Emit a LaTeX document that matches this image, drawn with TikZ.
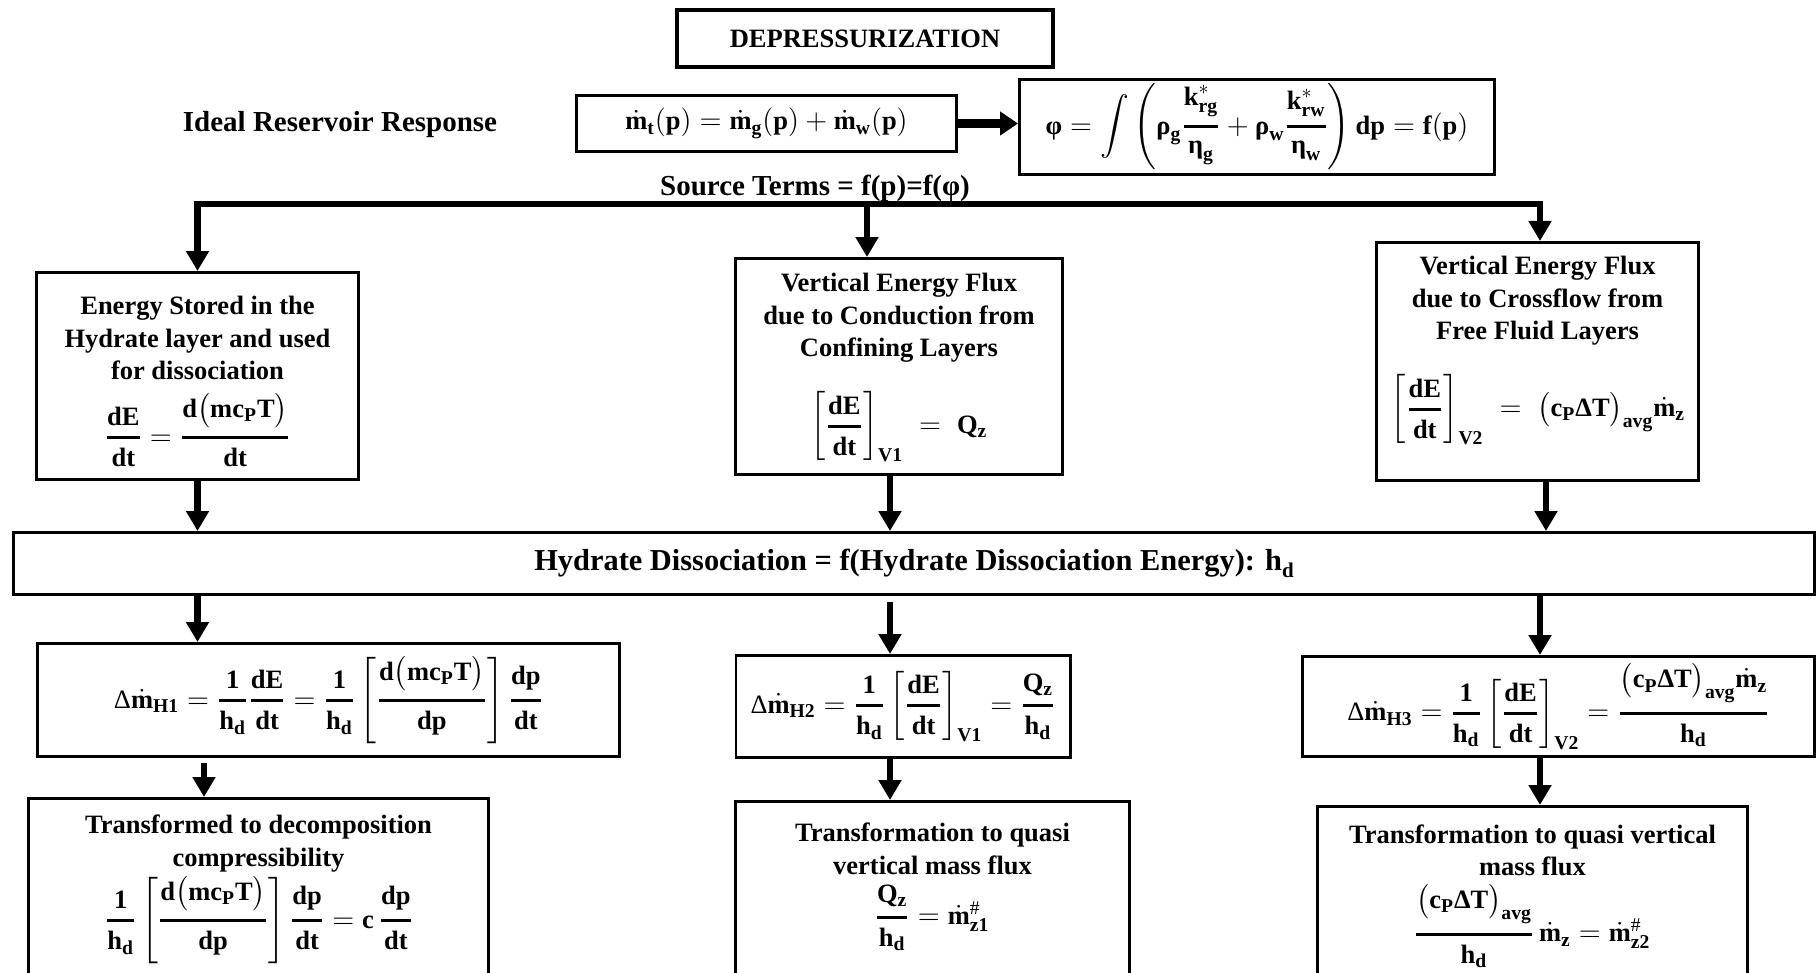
\documentclass[tikz,border=0pt]{standalone}
\usepackage{amsmath}
\usepackage{fontspec}
\setmainfont{Liberation Serif}
\usetikzlibrary{arrows.meta}
\DeclareMathSizes{13.25}{13.25}{9.8}{7.5}
\newcommand{\gr}[1]{\mbox{\bfseries #1}}
\newcommand{\Dl}{\mbox{\mdseries Δ}}
\newcommand{\mf}[1]{\mathbf{#1}}
\newcommand{\md}{\dot{\mf m}}
\newcommand{\fr}[2]{\genfrac{}{}{1.5pt}{0}{#1}{#2}}
\begin{document}
\begin{tikzpicture}[x=0.5pt,y=-0.5pt,
  bx/.style={draw, line width=1.3pt, inner sep=0pt, align=center},
  txt/.style={font=\bfseries\fontsize{13.25}{16.25}\selectfont, align=center, inner sep=0pt},
  big/.style={font=\bfseries\fontsize{14.5}{17}\selectfont, align=center, inner sep=0pt},
  arr/.style={line width=3.2pt, -{Triangle[length=10pt,width=11pt]}},
  harr/.style={line width=4.5pt, -{Triangle[length=9pt,width=11.5pt]}},
  bus/.style={line width=3.4pt, line cap=rect}]
\useasboundingbox (0,0) rectangle (1818,973);
\clip (0,0) rectangle (1818,973);
% top
\node[bx, txt, line width=2.2pt, minimum width=187.8pt, minimum height=28.3pt] (dep) at (865,38.5) {DEPRESSURIZATION};
\node[big] (ideal) at (340,125) {Ideal Reservoir Response};
\node[bx, txt, minimum width=190.2pt, minimum height=28.2pt] (mdot) at (766.5,123.5)
  {$\md_{\mf t}(\mf p) = \md_{\mf g}(\mf p) + \md_{\mf w}(\mf p)$};
\node[bx, txt, minimum width=237.7pt, minimum height=47.7pt] (phi) at (1257,127)
  {$\gr{φ} = \displaystyle\int\left(\gr{ρ}_{\mf g}\fr{\mf k^{*}_{\mf{rg}}}{\gr{η}_{\mf g}} + \gr{ρ}_{\mf w}\fr{\mf k^{*}_{\mf{rw}}}{\gr{η}_{\mf w}}\right)\mf{dp} = \mf f(\mf p)$};
\draw[harr] (mdot.east) -- (mdot.east -| phi.west);
\node[big] (src) at (815,188) {Source Terms = f(p)=f(φ)};
% middle boxes
\node[bx, minimum width=161.2pt, minimum height=103.7pt] (b1) at (197.5,376) {};
\node[txt] (b1t) at (197.5,338) {Energy Stored in the\\Hydrate layer and used\\for dissociation};
\node[txt] (b1e) at (197.5,430) {$\fr{\mf{dE}}{\mf{dt}} = \fr{\mf d\big(\mf{mc}_{\mf P}\mf T\big)}{\mf{dt}}$};
\node[bx, minimum width=163.7pt, minimum height=108.2pt] (b2) at (899,366.5) {};
\node[txt] (b2t) at (899,318) {Vertical Energy Flux\\due to Conduction from\\Confining Layers};
\node[txt] (b2e) at (899,427) {$\left[\fr{\mf{dE}}{\mf{dt}}\right]_{\mf{V1}}\;=\;\mf Q_{\mf z}$};
\node[bx, minimum width=161.2pt, minimum height=119.2pt] (b3) at (1537.5,361.5) {};
\node[txt] (b3t) at (1537.5,301) {Vertical Energy Flux\\due to Crossflow from\\Free Fluid Layers};
\node[txt] (b3e) at (1538,410) {$\left[\fr{\mf{dE}}{\mf{dt}}\right]_{\mf{V2}}\;=\;\big(\mf c_{\mf P}\gr{Δ}\mf T\big)_{\mf{avg}}\md_{\mf z}$};
% bus
\coordinate (bl) at (197.5,204);
\coordinate (bm) at (867,204);
\coordinate (br) at (1540,204);
\draw[bus] (bl) -- (br);
\draw[arr] (bl) -- (bl |- b1.north);
\draw[arr] (bm) -- (bm |- b2.north);
\draw[arr] (br) -- (br |- b3.north);
% hydrate bar
\node[bx, txt, font=\bfseries\fontsize{15.2}{17}\selectfont, minimum width=900.7pt, minimum height=31.2pt] (hyd) at (914,563.5)
  {Hydrate Dissociation = f(Hydrate Dissociation Energy): h\raisebox{-0.5ex}{\fontsize{10.5}{11}\selectfont d}};
\coordinate (x2) at (890,0);
\coordinate (x3) at (1546,0);
\coordinate (x4) at (204,0);
\draw[arr] (b1.south) -- (b1.south |- hyd.north);
\draw[arr] (b2.south -| x2) -- (x2 |- hyd.north);
\draw[arr] (b3.south -| x3) -- (x3 |- hyd.north);
% H boxes
\node[bx, txt, minimum width=291.2pt, minimum height=56.7pt] (h1) at (328.5,700)
  {$\Dl\md_{\mf{H1}} = \fr{\mf 1}{\mf h_{\mf d}}\fr{\mf{dE}}{\mf{dt}} = \fr{\mf 1}{\mf h_{\mf d}}\left[\fr{\mf d\big(\mf{mc}_{\mf P}\mf T\big)}{\mf{dp}}\right]\fr{\mf{dp}}{\mf{dt}}$};
\node[bx, txt, minimum width=167.2pt, minimum height=51.2pt] (h2) at (903,706.5)
  {$\Dl\md_{\mf{H2}} = \fr{\mf 1}{\mf h_{\mf d}}\left[\fr{\mf{dE}}{\mf{dt}}\right]_{\mf{V1}} = \fr{\mf Q_{\mf z}}{\mf h_{\mf d}}$};
\node[bx, txt, minimum width=256.2pt, minimum height=50.2pt] (h3) at (1558.5,706.5)
  {$\Dl\md_{\mf{H3}} = \fr{\mf 1}{\mf h_{\mf d}}\left[\fr{\mf{dE}}{\mf{dt}}\right]_{\mf{V2}} = \fr{\big(\mf c_{\mf P}\gr{Δ}\mf T\big)_{\mf{avg}}\md_{\mf z}}{\mf h_{\mf d}}$};
\draw[arr] (hyd.south -| b1.center) -- (b1.center |- h1.north);
\draw[arr] ([yshift=-3pt]hyd.south -| x2) -- (x2 |- h2.north);
\draw[arr] (hyd.south -| br) -- (br |- h3.north);
% T boxes
\node[bx, minimum width=230.2pt, minimum height=105.2pt] (t1) at (258.5,903.5) {};
\node[txt] (t1t) at (258.5,843.5) {Transformed to decomposition\\compressibility};
\node[txt] (t1e) at (259,920) {$\fr{\mf 1}{\mf h_{\mf d}}\left[\fr{\mf d\big(\mf{mc}_{\mf P}\mf T\big)}{\mf{dp}}\right]\fr{\mf{dp}}{\mf{dt}} = \mf c\,\fr{\mf{dp}}{\mf{dt}}$};
\node[bx, minimum width=197.2pt, minimum height=104.2pt] (t2) at (932.5,905.5) {};
\node[txt] (t2t) at (932.5,849) {Transformation to quasi\\vertical mass flux};
\node[txt] (t2e) at (932,918) {$\fr{\mf Q_{\mf z}}{\mf h_{\mf d}} = \md^{\#}_{\mf{z1}}$};
\node[bx, minimum width=215.2pt, minimum height=101.2pt] (t3) at (1532.5,907.5) {};
\node[txt] (t3t) at (1532.5,850.5) {Transformation to quasi vertical\\mass flux};
\node[txt] (t3e) at (1532,926) {$\fr{\big(\mf c_{\mf P}\gr{Δ}\mf T\big)_{\mf{avg}}}{\mf h_{\mf d}}\,\md_{\mf z} = \md^{\#}_{\mf{z2}}$};
\draw[arr] ([yshift=-2.5pt]h1.south -| x4) -- (x4 |- t1.north);
\draw[arr] (h2.south -| x2) -- (x2 |- t2.north);
\draw[arr] (h3.south -| br) -- (br |- t3.north);
\end{tikzpicture}
\end{document}
